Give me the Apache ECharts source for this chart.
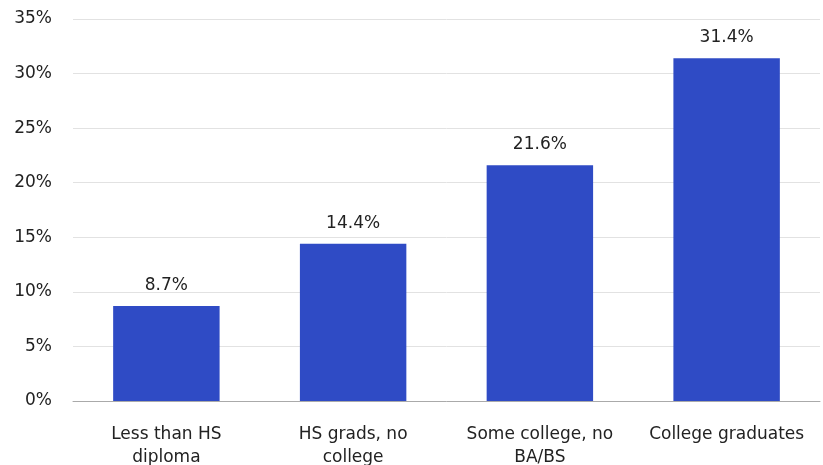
<!DOCTYPE html>
<html>
<head>
<meta charset="utf-8">
<script src="https://cdn.jsdelivr.net/npm/echarts@6/dist/echarts.min.js"></script>
<style>
  html, body { margin: 0; padding: 0; background: #fff; }
  #chart { width: 823px; height: 465px; }
</style>
</head>
<body>
<div id="chart"></div>
<script>
const categories = ['Less than HS\ndiploma', 'HS grads, no\ncollege', 'Some college, no\nBA/BS', 'College graduates']
const values = [8.7, 14.4, 21.6, 31.4]

const chart = echarts.init(document.getElementById('chart'))
const font = 'DejaVu Sans'

const option = {
  animation: false,
  grid: { left: 73, right: 3, top: 19, bottom: 64, outerBoundsMode: 'none' },
  xAxis: {
    type: 'category',
    data: categories,
    axisTick: { show: false },
    axisLine: { lineStyle: { color: '#aaaaaa', width: 1 } },
    axisLabel: {
      color: '#222',
      fontFamily: font,
      fontSize: 17,
      lineHeight: 23,
      margin: 22,
      interval: 0
    }
  },
  yAxis: {
    type: 'value',
    min: 0,
    max: 35,
    interval: 5,
    axisLabel: {
      formatter: '{value}%',
      color: '#222',
      fontFamily: font,
      fontSize: 17,
      margin: 21
    },
    splitLine: { lineStyle: { color: '#e2e2e2' } }
  },
  series: [
    {
      type: 'bar',
      data: values,
      barWidth: '57%',
      itemStyle: { color: '#2f4bc5' },
      label: {
        show: true,
        position: 'top',
        distance: 12,
        formatter: p => p.value.toFixed(1) + '%',
        color: '#222',
        fontFamily: font,
        fontSize: 17
      }
    }
  ]
}

chart.setOption(option)
</script>
</body>
</html>
